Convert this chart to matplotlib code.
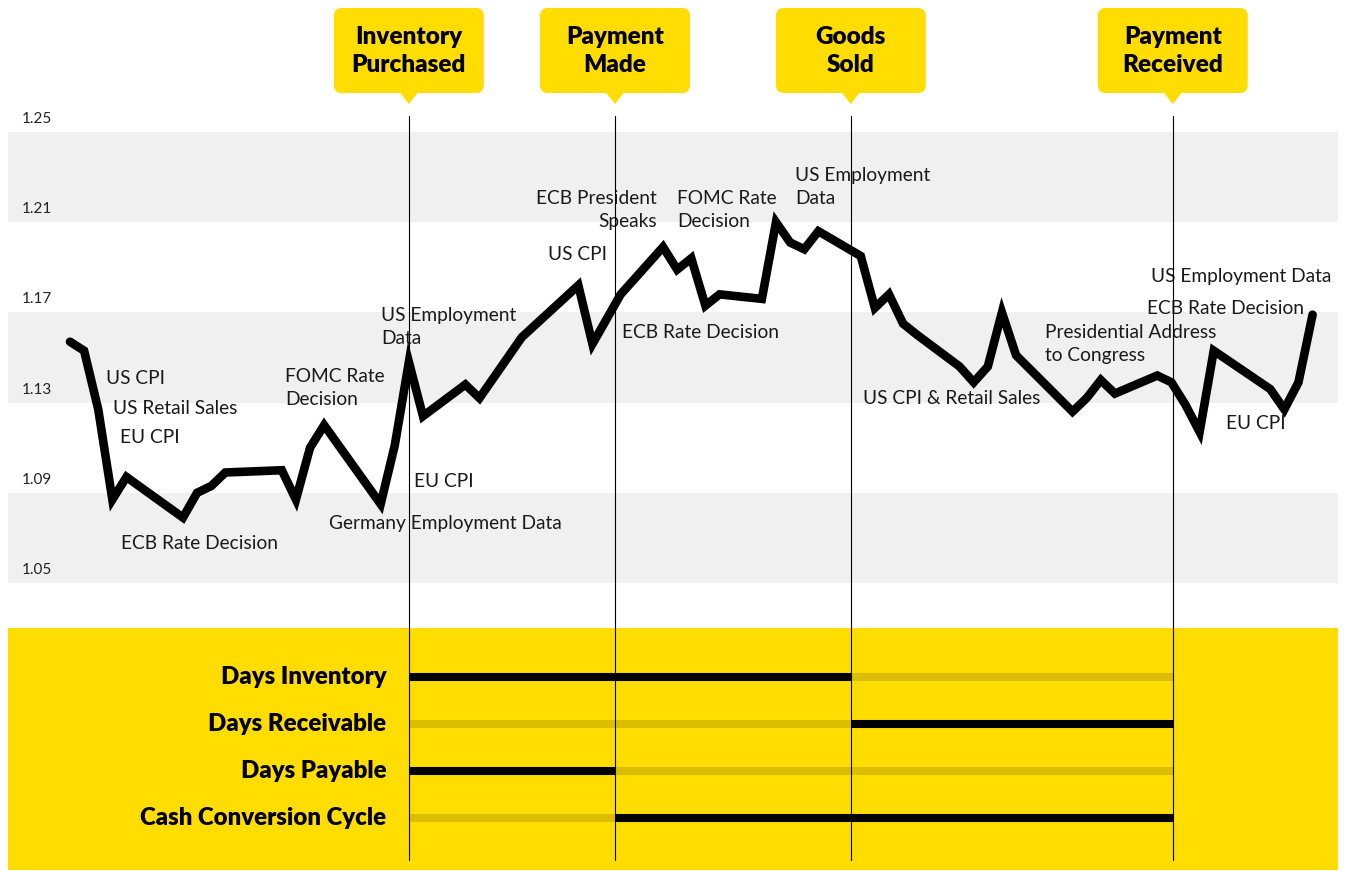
import matplotlib.pyplot as plt
from matplotlib import transforms
from matplotlib.patches import FancyBboxPatch, Polygon

plt.rcParams['font.family'] = ['Lato', 'DejaVu Sans']

# rate by trading day
days = [0, 1, 2, 3, 4, 8, 9, 10, 11, 15, 16, 17, 18, 22, 23, 24, 25, 28, 29, 32,
        36, 37, 39, 42, 43, 44, 45, 46, 49, 50, 51, 52, 53, 56, 57, 58, 59, 60,
        63, 64, 65, 66, 67, 71, 72, 73, 74, 77, 78, 79, 80, 81, 85, 86, 87, 88]
rate = [1.157, 1.153, 1.127, 1.087, 1.097, 1.079, 1.090, 1.093, 1.099, 1.100, 1.087, 1.110, 1.120,
        1.085, 1.111, 1.148, 1.124, 1.138, 1.132, 1.159,
        1.182, 1.156, 1.178, 1.199, 1.189, 1.194, 1.173, 1.178, 1.176, 1.210, 1.201, 1.198, 1.206,
        1.195, 1.172, 1.178, 1.165, 1.160, 1.146, 1.139, 1.146, 1.170, 1.151,
        1.126, 1.132, 1.140, 1.134, 1.142, 1.139, 1.129, 1.117, 1.153, 1.136, 1.127, 1.139, 1.169]
yticks = [1.25, 1.21, 1.17, 1.13, 1.09, 1.05]

# cycle events
event_x = [24, 38.6, 55.3, 78.1]
event_labels = ['Inventory\nPurchased', 'Payment\nMade', 'Goods\nSold', 'Payment\nReceived']

# cycle metrics: (start event, end event)
metrics = ['Days Inventory', 'Days Receivable', 'Days Payable', 'Cash Conversion Cycle']
spans = [(0, 2), (2, 3), (0, 1), (1, 3)]

# news annotations: text, day, rate, alignment
news = [
    ('US CPI', 2.55, 1.1405, 'left'),
    ('US Retail Sales', 3.05, 1.1276, 'left'),
    ('EU CPI', 3.54, 1.1147, 'left'),
    ('ECB Rate Decision', 3.61, 1.0673, 'left'),
    ('FOMC Rate\nDecision', 15.23, 1.1365, 'left'),
    ('US Employment\nData', 22.03, 1.1635, 'left'),
    ('EU CPI', 24.36, 1.0952, 'left'),
    ('Germany Employment Data', 18.34, 1.0766, 'left'),
    ('US CPI', 33.85, 1.1955, 'left'),
    ('ECB President\nSpeaks', 41.57, 1.2154, 'right'),
    ('FOMC Rate\nDecision', 42.99, 1.2154, 'left'),
    ('ECB Rate Decision', 39.09, 1.1613, 'left'),
    ('US Employment\nData', 51.35, 1.2256, 'left'),
    ('US CPI & Retail Sales', 56.16, 1.132, 'left'),
    ('Presidential Address\nto Congress', 69.05, 1.156, 'left'),
    ('US Employment Data', 76.56, 1.1861, 'left'),
    ('ECB Rate Decision', 76.27, 1.1719, 'left'),
    ('EU CPI', 81.87, 1.1209, 'left'),
]

YELLOW = '#FFDD00'
FADED = '#DBBE00'
BAND = '#F0F0F0'

W, H = 1347, 871
fig = plt.figure(figsize=(W / 100, H / 100), dpi=100)


def box(l, t, r, b):
    return [l / W, 1 - b / H, (r - l) / W, (b - t) / H]


ax = fig.add_axes(box(8, 132, 1338, 583))
ax2 = fig.add_axes(box(8, 628, 1338, 870), sharex=ax)
axc = fig.add_axes(box(8, 0, 1338, 116), sharex=ax)

ax.set_xlim(-4.39, 89.8)
ax.set_ylim(1.05, 1.25)
ax.set_zorder(3)
ax.patch.set_visible(False)
for s in ax.spines.values():
    s.set_visible(False)
ax.tick_params(left=False, bottom=False, labelleft=False, labelbottom=False)

for lo in yticks[1::2]:
    ax.axhspan(lo, lo + 0.04, color=BAND, lw=0, zorder=0)

ytrans = transforms.offset_copy(transforms.blended_transform_factory(ax.transAxes, ax.transData),
                                fig=fig, y=9, units='dots')
for v in yticks:
    ax.text(0.0105, v, f'{v:.2f}', transform=ytrans, va='baseline', ha='left',
            fontsize=11, color='#222222')

ax.plot(days, rate, color='black', lw=6.2, solid_joinstyle='miter', solid_capstyle='round', zorder=3)

for text, x, y, ha in news:
    ax.text(x, y, text, ha=ha, va='center', multialignment=ha, fontsize=13.8,
            linespacing=1.4, color='#1a1a1a', zorder=2)

vtrans = transforms.blended_transform_factory(ax.transData, ax.transAxes)
for ex in event_x:
    ax.plot([ex, ex], [1.0355, -0.614], transform=vtrans, color='black', lw=0.8,
            clip_on=False, zorder=4)

# bottom panel
ax2.set_facecolor(YELLOW)
ax2.set_ylim(4.106, -1.043)
for s in ax2.spines.values():
    s.set_visible(False)
ax2.tick_params(left=False, bottom=False, labelleft=False, labelbottom=False)
for i, (name, (s0, s1)) in enumerate(zip(metrics, spans)):
    ax2.hlines(i, event_x[0], event_x[-1], color=FADED, lw=5.8)
    ax2.hlines(i, event_x[s0], event_x[s1], color='black', lw=5.8)
    ax2.text(event_x[0] - 1.6, i, name, ha='right', va='center', fontsize=17.3,
             fontweight='heavy', color='black')

# callouts
axc.set_ylim(0, 116)
axc.set_axis_off()
for ex, lab in zip(event_x, event_labels):
    axc.add_patch(FancyBboxPatch((ex - 5.31, 23), 10.62, 85,
                                 boxstyle='round,pad=0,rounding_size=0.57',
                                 mutation_aspect=14.12, fc=YELLOW, ec='none'))
    axc.add_patch(Polygon([(ex - 0.67, 24), (ex + 0.67, 24), (ex, 12)], closed=True,
                          fc=YELLOW, ec='none'))
    axc.text(ex, 65, lab, ha='center', va='center', fontsize=17.5, fontweight='heavy',
             linespacing=1.35)

fig.savefig('out.png', dpi=100)
